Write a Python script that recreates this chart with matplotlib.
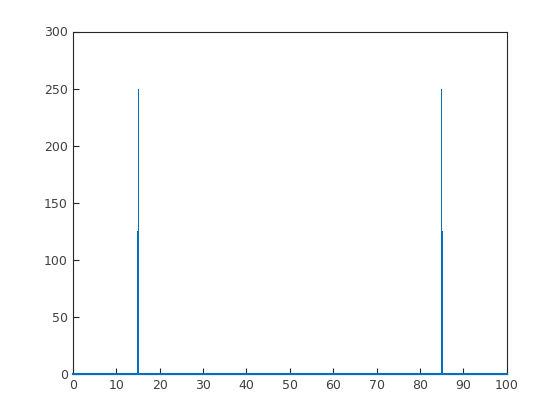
import matplotlib
matplotlib.use('Agg')
import matplotlib.pyplot as plt

# tall thin spikes and the shorter wider bars next to them
spike_x = [15.1, 84.9]
spike_h = [250, 250]
side_x = [15.0, 85.05]
side_h = [125, 125]

xticks = [0, 10, 20, 30, 40, 50, 60, 70, 80, 90, 100]
yticks = [0, 50, 100, 150, 200, 250, 300]

blue = '#0072BD'
grey = '#262626'

plt.rcParams['font.family'] = 'DejaVu Sans'
plt.rcParams['font.size'] = 9

fig = plt.figure(figsize=(5.6, 4.2), dpi=100)
ax = fig.add_axes([0.13, 0.11, 0.775, 0.815])

ax.bar(side_x, side_h, width=0.5, color=blue, linewidth=0)
ax.bar(spike_x, spike_h, width=0.22, color=blue, linewidth=0)
ax.axhline(0, color=blue, linewidth=1.5, zorder=5, clip_on=False)

ax.set_xlim(0, 100)
ax.set_ylim(0, 300)
ax.set_xticks(xticks)
ax.set_yticks(yticks)
ax.tick_params(direction='in', length=4, width=0.8, colors=grey, labelcolor='#404040',
               top=False, right=False)
for s in ax.spines.values():
    s.set_color(grey)
    s.set_linewidth(0.8)

fig.savefig('out.png', dpi=100)
